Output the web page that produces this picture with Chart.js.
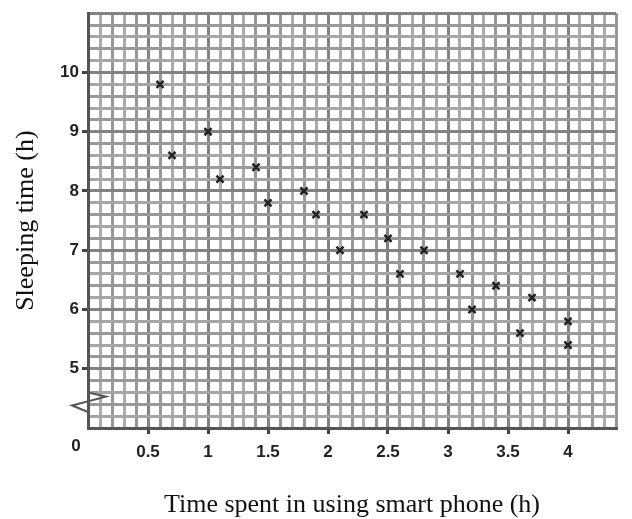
<!DOCTYPE html>
<html>
<head>
<meta charset="utf-8">
<script src="https://cdn.jsdelivr.net/npm/chart.js@4"></script>
<style>
  html, body { margin: 0; padding: 0; background: #fff; }
</style>
</head>
<body>
<canvas id="chart" width="632" height="519"></canvas>
<script>
const phoneHours = [0.6, 0.7, 1.0, 1.1, 1.4, 1.5, 1.8, 1.9, 2.1, 2.3, 2.5, 2.6, 2.8, 3.1, 3.2, 3.4, 3.6, 3.7, 4.0, 4.0];
const sleepHours = [9.8, 8.6, 9.0, 8.2, 8.4, 7.8, 8.0, 7.6, 7.0, 7.6, 7.2, 6.6, 7.0, 6.6, 6.0, 6.4, 5.6, 6.2, 5.8, 5.4];
const xTickLabels = [0.5, 1, 1.5, 2, 2.5, 3, 3.5, 4];
const yTickLabels = [5, 6, 7, 8, 9, 10];

const TICK_FONT = { family: "'Liberation Sans', Arial, sans-serif", size: 17, weight: "bold" };
const TITLE_FONT = { family: "'Liberation Serif', 'Times New Roman', serif", size: 26, lineHeight: 1 };

function isLabelled(list, value) {
  return list.some((v) => Math.abs(v - value) < 1e-6);
}

function xLineColor(ctx) {
  const k = Math.round(ctx.tick.value * 10);
  if (k % 5 === 0) return "#828282";
  return k % 2 ? "#ababab" : "#969696";
}

function yLineColor(ctx) {
  const k = Math.round(ctx.tick.value * 5);
  if (k % 5 === 0) return "#828282";
  return k % 2 ? "#a6a6a6" : "#999999";
}

// origin "0" and the zigzag break on the y axis
const axisBreak = {
  id: "axisBreak",
  afterDraw(chart) {
    const { ctx, chartArea, scales } = chart;
    const left = chartArea.left;
    const y = scales.y;

    ctx.save();
    ctx.strokeStyle = "#555";
    ctx.lineWidth = 2;
    ctx.beginPath();
    ctx.moveTo(left, y.getPixelForValue(4.6));
    ctx.lineTo(left + 18, y.getPixelForValue(4.53));
    ctx.lineTo(left - 16, y.getPixelForValue(4.38));
    ctx.lineTo(left, y.getPixelForValue(4.27));
    ctx.stroke();

    ctx.fillStyle = "#222";
    ctx.font = "bold 17px 'Liberation Sans', Arial, sans-serif";
    ctx.textAlign = "center";
    ctx.textBaseline = "middle";
    ctx.fillText("0", left - 12, chartArea.bottom + 18);
    ctx.restore();
  },
};

new Chart(document.getElementById("chart"), {
  type: "scatter",
  data: {
    datasets: [
      {
        label: "Students",
        data: phoneHours.map((x, i) => ({ x, y: sleepHours[i] })),
        pointStyle: "crossRot",
        pointRadius: 5,
        pointHoverRadius: 5,
        borderColor: "#222",
        backgroundColor: "#222",
        borderWidth: 2.5,
      },
    ],
  },
  options: {
    responsive: false,
    animation: false,
    layout: { padding: { top: 7, right: 16, left: 0, bottom: 0 } },
    plugins: {
      legend: { display: false },
      tooltip: { enabled: false },
    },
    scales: {
      x: {
        type: "linear",
        min: 0,
        max: 4.4,
        afterFit: (scale) => { scale.height = 91; },
        ticks: {
          stepSize: 0.1,
          autoSkip: false,
          maxRotation: 0,
          padding: 8,
          color: "#222",
          font: TICK_FONT,
          callback: (value) => (isLabelled(xTickLabels, value) ? String(value) : ""),
        },
        grid: {
          color: xLineColor,
          lineWidth: 3,
          drawTicks: true,
          tickLength: 6,
          tickWidth: 3,
          tickColor: (ctx) => (isLabelled(xTickLabels, ctx.tick.value) ? "#444" : "transparent"),
        },
        border: { color: "#555", width: 3 },
        title: {
          display: true,
          text: "Time spent in using smart phone (h)",
          color: "#111",
          font: TITLE_FONT,
          padding: { top: 0, bottom: 1 },
        },
      },
      y: {
        type: "linear",
        min: 4,
        max: 11,
        afterFit: (scale) => { scale.width = 88; },
        ticks: {
          stepSize: 0.2,
          autoSkip: false,
          padding: 3,
          color: "#222",
          font: TICK_FONT,
          callback: (value) => (isLabelled(yTickLabels, value) ? String(value) : ""),
        },
        grid: {
          color: yLineColor,
          lineWidth: 3,
          drawTicks: true,
          tickLength: 6,
          tickWidth: 3,
          tickColor: (ctx) => (isLabelled(yTickLabels, ctx.tick.value) ? "#444" : "transparent"),
        },
        border: { color: "#555", width: 3 },
        title: {
          display: true,
          text: "Sleeping time (h)",
          color: "#111",
          font: TITLE_FONT,
          padding: { top: 13, bottom: 0 },
        },
      },
    },
  },
  plugins: [axisBreak],
});
</script>
</body>
</html>
